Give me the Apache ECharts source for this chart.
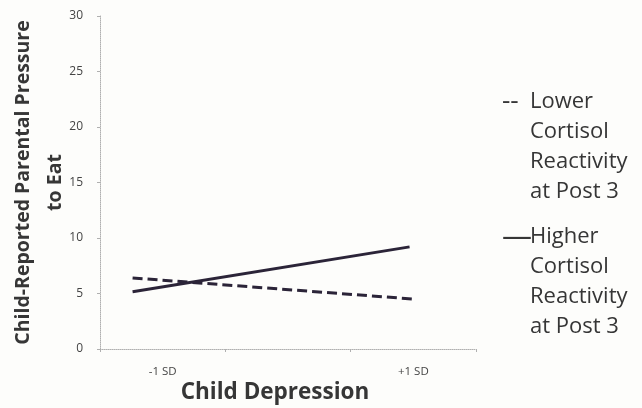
<!DOCTYPE html>
<html>
<head>
<meta charset="utf-8">
<script src="https://cdn.jsdelivr.net/npm/echarts@6/dist/echarts.min.js"></script>
<style>
  html, body { margin: 0; padding: 0; background: #fdfdfb; }
  #chart { width: 642px; height: 408px; }
</style>
</head>
<body>
<div id="chart"></div>
<script>
// Category slots along the depression axis (middle slot unlabeled)
const categories = ['-1 SD', '', '+1 SD'];
// Line endpoints on the 0–3 slot scale
const lowerX = [0.26, 2.5];
const higherX = [0.26, 2.47];
// Pressure-to-eat values at -1 SD and +1 SD
const lowerCortisol = [6.4, 4.5];
const higherCortisol = [5.15, 9.2];
const yTicks = [0, 5, 10, 15, 20, 25, 30];

const seriesNames = ['Lower Cortisol Reactivity at Post 3', 'Higher Cortisol Reactivity at Post 3'];
const legendLines = [
  ['Lower', 'Cortisol', 'Reactivity', 'at Post 3'],
  ['Higher', 'Cortisol', 'Reactivity', 'at Post 3']
];
// Text marks standing in for the line styles, with their rich-text style keys
const legendMarks = [['h', '--'], ['e', '\u2014']];

const textColor = '#363636';
const lineColor = '#2b2438';
const fontFamily = '"Open Sans", sans-serif';

const chart = echarts.init(document.getElementById('chart'));

// Legend entries: a dash mark in front of the first line, later lines indented
const legendLabel = function (name) {
  const idx = seriesNames.indexOf(name);
  const mark = legendMarks[idx];
  return legendLines[idx].map(function (l, i) {
    const prefix = i === 0 ? '{' + mark[0] + '|' + mark[1] + '}' : '{d|}';
    return prefix + '{t|' + l + '}';
  }).join('\n');
};

const legendLineHeight = 30;

chart.setOption({
  backgroundColor: '#fdfdfb',
  animation: false,
  textStyle: { fontFamily: fontFamily },
  grid: { left: 100, right: 166, top: 16, bottom: 59, containLabel: false, outerBoundsMode: 'none' },
  legend: {
    orient: 'vertical',
    left: 492,
    top: 84,
    icon: 'none',
    itemWidth: 0,
    itemHeight: 0,
    itemGap: 19,
    selectedMode: false,
    data: seriesNames,
    formatter: legendLabel,
    textStyle: {
      rich: {
        d: { width: 28, fontSize: 22, color: textColor, fontFamily: fontFamily, lineHeight: legendLineHeight },
        h: { width: 28, fontSize: 26, color: textColor, fontFamily: fontFamily, lineHeight: legendLineHeight },
        e: { width: 28, fontSize: 30, color: textColor, fontFamily: fontFamily, lineHeight: legendLineHeight },
        t: { fontSize: 22, color: textColor, fontFamily: fontFamily, lineHeight: legendLineHeight }
      }
    }
  },
  xAxis: [
    {
      type: 'category',
      data: categories,
      boundaryGap: true,
      axisLine: { lineStyle: { color: '#b0b0b0', type: 'dotted', width: 1 } },
      axisTick: { show: true, length: 3, lineStyle: { color: '#b0b0b0' } },
      axisLabel: { color: '#444', fontSize: 11.5, margin: 17, fontFamily: fontFamily },
      name: 'Child Depression',
      nameLocation: 'middle',
      nameGap: 29,
      nameMoveOverlap: false,
      nameTextStyle: { fontSize: 22.5, fontWeight: 'bold', color: textColor, lineHeight: 30, padding: [0, 26, 0, 0], fontFamily: fontFamily }
    },
    {
      type: 'value',
      min: 0,
      max: 3,
      show: false
    }
  ],
  yAxis: {
    type: 'value',
    min: yTicks[0],
    max: yTicks[yTicks.length - 1],
    interval: 5,
    splitLine: { show: false },
    axisLine: { show: true, lineStyle: { color: '#b0b0b0', type: 'dotted', width: 1 } },
    axisTick: { show: true, length: 3, lineStyle: { color: '#b0b0b0' } },
    axisLabel: { color: '#444', fontSize: 12, margin: 17, fontFamily: fontFamily },
    name: 'Child-Reported Parental Pressure\nto Eat',
    nameLocation: 'middle',
    nameRotate: 90,
    nameGap: 29,
    nameMoveOverlap: false,
    nameTextStyle: { fontSize: 19.5, fontWeight: 'bold', color: textColor, lineHeight: 32, fontFamily: fontFamily }
  },
  series: [
    {
      name: seriesNames[0],
      type: 'line',
      xAxisIndex: 1,
      data: lowerX.map(function (x, i) { return [x, lowerCortisol[i]]; }),
      showSymbol: false,
      lineStyle: { color: lineColor, width: 3, type: [10, 5] },
      itemStyle: { color: lineColor }
    },
    {
      name: seriesNames[1],
      type: 'line',
      xAxisIndex: 1,
      data: higherX.map(function (x, i) { return [x, higherCortisol[i]]; }),
      showSymbol: false,
      lineStyle: { color: lineColor, width: 3 },
      itemStyle: { color: lineColor }
    }
  ]
});
</script>
</body>
</html>
